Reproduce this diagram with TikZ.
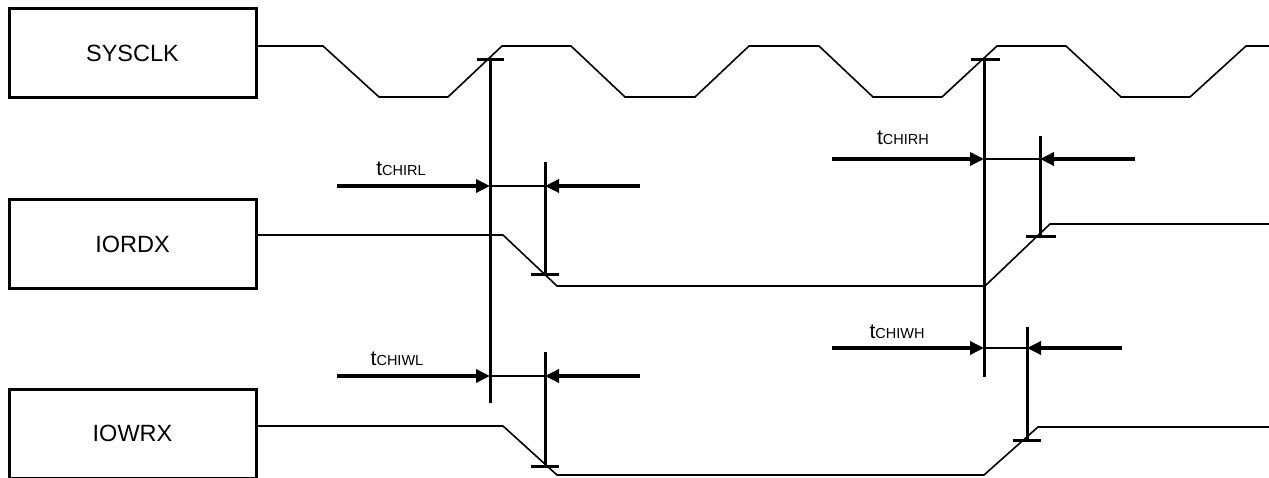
\documentclass[tikz,border=0pt]{standalone}
\usepackage{fontspec}
\setmainfont{Liberation Sans}
\usetikzlibrary{arrows.meta}
\tikzset{
  sigbox/.style={draw,line width=3pt,minimum width=247pt,minimum height=89pt,inner sep=0pt,font=\fontsize{23.5}{28}\selectfont},
  wave/.style={line width=1.6pt,line join=miter},
  mark line/.style={line width=3pt},
  dimarrow/.style={line width=3.4pt,-{Triangle[length=14pt,width=13pt]}},
  thinlink/.style={line width=1.6pt},
  tlabel/.style={anchor=base,inner sep=0pt,font=\fontsize{21}{24}\selectfont}
}
\newcommand{\tlab}[1]{t{\fontsize{14.5}{16}\selectfont #1}}
\begin{document}
\begin{tikzpicture}[x=1pt,y=-1pt]
\useasboundingbox (0,0) rectangle (1269,478);
% signal boxes
\node[sigbox] (sys) at (132.5,53.5) {SYSCLK};
\node[sigbox] (iord) at (132.5,244) {IORDX};
\node[sigbox] (iowr) at (132.5,433.5) {IOWRX};
% waveforms
\draw[wave] (sys.east |- 0,46) -- (323,46) -- (379,97) -- (448,97) -- (502,46) -- (571,46) -- (625,97) -- (695,97) -- (749,46) -- (819,46) -- (873,97) -- (942,97) -- (997,46) -- (1066,46) -- (1121,97) -- (1190,97) -- (1246,46) -- (1269,46);
\draw[wave] (iord.east |- 0,235) -- (503,235) -- (557,286) -- (985,286) -- (1050,224) -- (1269,224);
\draw[wave] (iowr.east |- 0,426) -- (503,426) -- (557,475) -- (984,475) -- (1038,427) -- (1269,427);
% reference coordinates
\coordinate (aT) at (490,60);   \coordinate (aB) at (490,403);
\coordinate (bT) at (545,162);  \coordinate (bB) at (545,275);
\coordinate (cT) at (545,352);  \coordinate (cB) at (545,466);
\coordinate (dT) at (984,60);   \coordinate (dB) at (984,377);
\coordinate (eT) at (1040,136); \coordinate (eB) at (1040,237);
\coordinate (fT) at (1027,327); \coordinate (fB) at (1027,440);
% vertical marker lines with ticks
\draw[mark line] (aT) -- (aB);
\draw[mark line] ([xshift=-13pt]aT) -- ([xshift=14pt]aT);
\draw[mark line] (bT) -- (bB);
\draw[mark line] ([xshift=-14pt]bB) -- ([xshift=14pt]bB);
\draw[mark line] (cT) -- (cB);
\draw[mark line] ([xshift=-14pt]cB) -- ([xshift=14pt]cB);
\draw[mark line] (dT) -- (dB);
\draw[mark line] ([xshift=-13pt]dT) -- ([xshift=16pt]dT);
\draw[mark line] (eT) -- (eB);
\draw[mark line] ([xshift=-14pt]eB) -- ([xshift=16pt]eB);
\draw[mark line] (fT) -- (fB);
\draw[mark line] ([xshift=-14pt]fB) -- ([xshift=14pt]fB);
% tCHIRL
\coordinate (rlA) at (490,186); \coordinate (rlB) at (545,186);
\coordinate (rlL) at (337,186); \coordinate (rlR) at (640,186);
\draw[dimarrow] (rlL) -- (rlA);
\draw[thinlink] (rlA) -- (rlB);
\draw[dimarrow] (rlR) -- (rlB);
\node[tlabel] (lrl) at (401,176) {\tlab{CHIRL}};
% tCHIWL
\coordinate (wlA) at (490,376); \coordinate (wlB) at (545,376);
\coordinate (wlL) at (337,376); \coordinate (wlR) at (640,376);
\draw[dimarrow] (wlL) -- (wlA);
\draw[thinlink] (wlA) -- (wlB);
\draw[dimarrow] (wlR) -- (wlB);
\node[tlabel] (lwl) at (397,365) {\tlab{CHIWL}};
% tCHIRH
\coordinate (rhA) at (984,159); \coordinate (rhB) at (1040,159);
\coordinate (rhL) at (832,159); \coordinate (rhR) at (1135,159);
\draw[dimarrow] (rhL) -- (rhA);
\draw[thinlink] (rhA) -- (rhB);
\draw[dimarrow] (rhR) -- (rhB);
\node[tlabel] (lrh) at (903,145) {\tlab{CHIRH}};
% tCHIWH
\coordinate (whA) at (984,348); \coordinate (whB) at (1027,348);
\coordinate (whL) at (832,348); \coordinate (whR) at (1122,348);
\draw[dimarrow] (whL) -- (whA);
\draw[thinlink] (whA) -- (whB);
\draw[dimarrow] (whR) -- (whB);
\node[tlabel] (lwh) at (897,338) {\tlab{CHIWH}};
\end{tikzpicture}
\end{document}
